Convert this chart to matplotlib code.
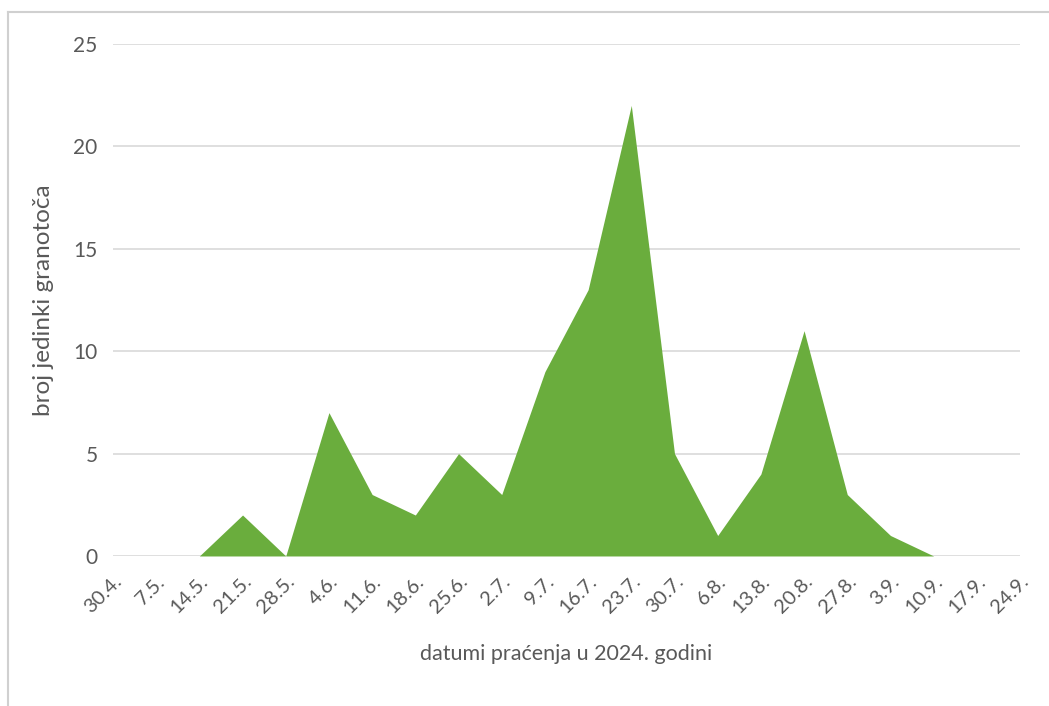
import matplotlib
matplotlib.use("Agg")
import matplotlib.pyplot as plt
from matplotlib.lines import Line2D

# weekly monitoring dates and counts
dates = ["30.4.", "7.5.", "14.5.", "21.5.", "28.5.", "4.6.", "11.6.", "18.6.",
         "25.6.", "2.7.", "9.7.", "16.7.", "23.7.", "30.7.", "6.8.", "13.8.",
         "20.8.", "27.8.", "3.9.", "10.9.", "17.9.", "24.9."]
counts = [0, 0, 0, 2, 0, 7, 3, 2, 5, 3, 9, 13, 22, 5, 1, 4, 11, 3, 1, 0, 0, 0]
y_ticks = [0, 5, 10, 15, 20, 25]

GREEN = "#6aad3d"
GRID = "#d9d9d9"
TEXT = "#595959"

plt.rcParams["font.family"] = ["Lato", "DejaVu Sans"]

fig = plt.figure(figsize=(10.49, 7.06), dpi=100)
ax = fig.add_axes([0.1077, 0.2125, 0.8647, 0.7252])

x = list(range(len(dates)))
ax.fill_between(x, counts, 0, color=GREEN, linewidth=0, zorder=3)

ax.set_xlim(0, len(dates) - 1)
ax.set_ylim(0, 25)
ax.set_yticks(y_ticks)
ax.set_yticklabels([str(v) for v in y_ticks], fontsize=15, color=TEXT)
ax.set_xticks(x)
ax.set_xticklabels(dates, rotation=45, ha="right", va="top",
                   rotation_mode="anchor", fontsize=14.5, color=TEXT)

ax.grid(axis="y", color=GRID, linewidth=1.2, zorder=0)
ax.tick_params(axis="both", length=0)
ax.tick_params(axis="y", pad=11)
ax.tick_params(axis="x", pad=12)
for side in ["top", "right", "left", "bottom"]:
    ax.spines[side].set_visible(False)

ax.set_ylabel("broj jedinki granotoča", fontsize=17.5, color=TEXT, labelpad=14)
ax.set_xlabel("datumi praćenja u 2024. godini", fontsize=15.5, color=TEXT, labelpad=20)

# outer chart frame (top and left edges visible in the reference)
fig.add_artist(Line2D([0.008, 1.0], [0.983, 0.983], transform=fig.transFigure,
                      color="#d0d0d0", linewidth=1.5))
fig.add_artist(Line2D([0.008, 0.008], [0.0, 0.983], transform=fig.transFigure,
                      color="#d0d0d0", linewidth=1.5))

fig.savefig("out.png", dpi=100)
